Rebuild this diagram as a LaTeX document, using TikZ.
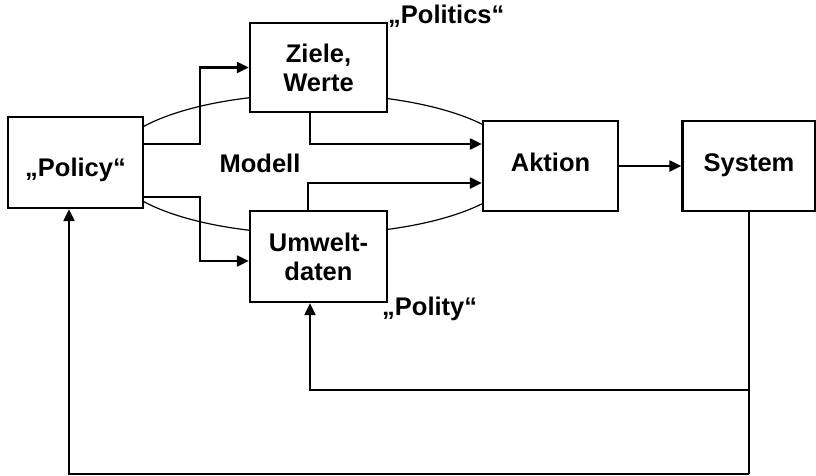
\documentclass[tikz,border=0pt]{standalone}
\usepackage{fontspec}
\setmainfont{Liberation Sans}
\usetikzlibrary{arrows.meta}
\begin{document}
\begin{tikzpicture}[x=1pt,y=1pt,
  every node/.style={font=\bfseries\fontsize{25.5}{29}\selectfont},
  box/.style={draw, line width=2.4pt, fill=white, align=center, inner sep=0pt},
  oneline/.style={text height=18pt, text depth=6.6pt},
  conn/.style={line width=2.3pt},
  arr/.style={conn, -{Triangle[length=12pt,width=11pt]}},
  thin ring/.style={line width=1.2pt}]
\useasboundingbox (0,0) rectangle (816,475);

% the model ellipse behind the boxes
\draw[thin ring] (315,311) ellipse [x radius=203, y radius=70];

% boxes
\node[box, minimum width=135pt, minimum height=91pt, text height=27pt, text depth=0pt] (pol) at (75.5,312.5) {„Policy“};
\node[box, minimum width=137pt, minimum height=89pt] (ziele) at (318.5,407.5) {Ziele,\\Werte};
\node[box, minimum width=137pt, minimum height=91pt] (umw) at (318.5,218.5) {Umwelt-\\daten};
\node[box, oneline, minimum width=135pt, minimum height=90pt] (akt) at (550.5,309) {Aktion};
\node[box, oneline, minimum width=133pt, minimum height=90pt] (sys) at (749,309) {System};

% labels
\node (modell) at (260,312) {Modell};
\node[anchor=base west, inner sep=0pt] (politics) at (388,451) {„Politics“};
\node[anchor=base west, inner sep=0pt] (polity) at (382,160) {„Polity“};

% connectors
\draw[arr] ([yshift=18.5pt]pol.east) -- ++(56,0) |- (ziele.west);
\draw[arr] ([yshift=-34.5pt]pol.east) -- ++(56,0) |- ([yshift=-4.5pt]umw.west);
\draw[arr] ([xshift=-8.5pt]ziele.south) |- ([yshift=22pt]akt.west);
\draw[arr] ([xshift=-10.5pt]umw.north) |- ([yshift=-17pt]akt.west);
\draw[arr] (akt.east) -- (sys.west);

% feedback loops
\coordinate (fb1) at (749,85);
\coordinate (fb2) at (749,1);
\draw[conn] (sys.south) -- (fb2);
\draw[arr] (fb1) -| ([xshift=-8.5pt]umw.south);
\draw[arr] (fb2) -| ([xshift=-6.5pt]pol.south);
\end{tikzpicture}
\end{document}
